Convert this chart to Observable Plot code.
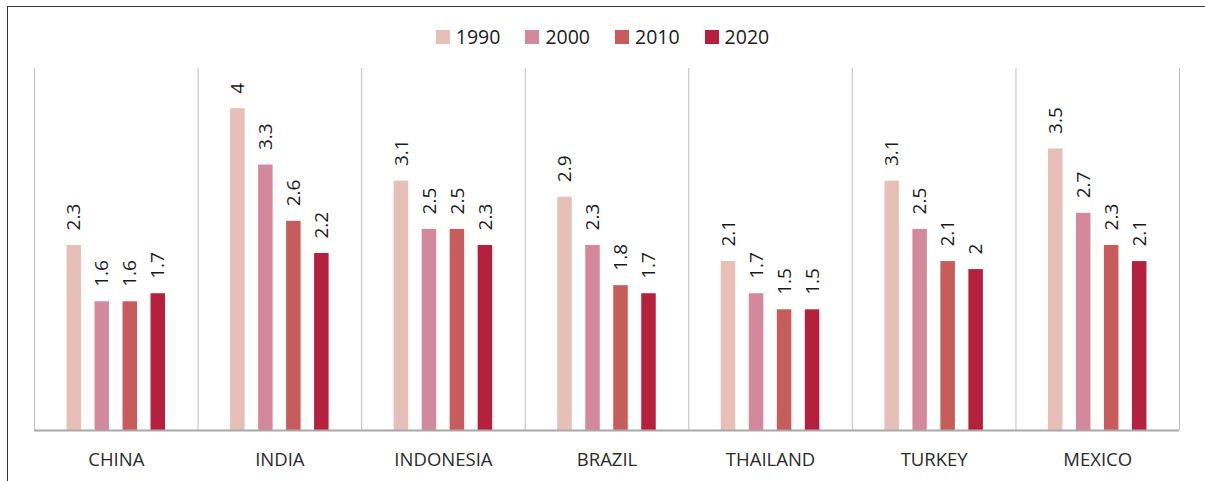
<!DOCTYPE html>
<html><head><meta charset="utf-8">
<script src="https://cdn.jsdelivr.net/npm/d3@7"></script>
<script src="https://cdn.jsdelivr.net/npm/@observablehq/plot@0.6"></script>
<style>
html,body{margin:0;padding:0;background:#fff;overflow:hidden;width:1205px;height:481px;font-family:"Open Sans",sans-serif;}
#frame{position:absolute;left:7px;top:6px;width:1400px;height:700px;border:1.5px solid #333;box-sizing:border-box;}
#chart{position:absolute;left:0;top:0;}
#legend{position:absolute;top:24px;left:0;width:1205px;display:flex;justify-content:center;gap:25px;font-size:19.5px;line-height:26px;color:#1a1a1a;}
.item{display:flex;align-items:center;gap:6px;}
.sw{width:14px;height:14px;display:inline-block;}
</style></head>
<body>
<div id="frame"></div>
<div id="chart"></div>
<div id="legend"></div>
<script>
const countries = ["CHINA","INDIA","INDONESIA","BRAZIL","THAILAND","TURKEY","MEXICO"];
const years = ["1990","2000","2010","2020"];
const v1990 = [2.3, 4, 3.1, 2.9, 2.1, 3.1, 3.5];
const v2000 = [1.6, 3.3, 2.5, 2.3, 1.7, 2.5, 2.7];
const v2010 = [1.6, 2.6, 2.5, 1.8, 1.5, 2.1, 2.3];
const v2020 = [1.7, 2.2, 2.3, 1.7, 1.5, 2, 2.1];
const colors = ["#e6bfb6", "#d3899b", "#c65d5a", "#b5203c"];

const series = [v1990, v2000, v2010, v2020];
const data = [];
countries.forEach((c, ci) => series.forEach((s, yi) => data.push({country: c, ci, yi, year: years[yi], value: s[ci]})));

const step = 28 / 163.6, bw = 14.5 / 163.6;
const cx = d => d.ci + 0.5 + (d.yi - 1.5) * step;

const chart = Plot.plot({
  width: 1205, height: 481,
  marginLeft: 34, marginRight: 26, marginTop: 68, marginBottom: 51,
  style: {fontFamily: "'Open Sans', sans-serif", color: "#1a1a1a", background: "transparent"},
  x: {domain: [0, 7], axis: null},
  y: {domain: [0, 4.5], axis: null},
  color: {domain: years, range: colors},
  marks: [
    Plot.ruleX(d3.range(countries.length + 1), {stroke: "#bdbdbd", strokeWidth: 1}),
    Plot.rectY(data, {x1: d => cx(d) - bw / 2, x2: d => cx(d) + bw / 2, y: "value", fill: "year"}),
    Plot.ruleY([0], {stroke: "#a8a8a8", strokeWidth: 2}),
    Plot.text(data, {x: cx, y: "value", text: d => String(d.value), rotate: -90, textAnchor: "start", dy: -15, fontSize: 19, fill: "#1a1a1a"}),
    Plot.axisX(countries.map((c, i) => i + 0.5), {tickFormat: d => countries[Math.floor(d)], tickSize: 0, tickPadding: 22, fontSize: 18.5, fill: "#2a2a2a"})
  ]
});
document.getElementById("chart").append(chart);

const legend = document.getElementById("legend");
years.forEach((y, i) => {
  const it = document.createElement("div"); it.className = "item";
  const sw = document.createElement("span"); sw.className = "sw"; sw.style.background = colors[i];
  const t = document.createElement("span"); t.textContent = y;
  it.append(sw, t); legend.append(it);
});
</script>
</body></html>
